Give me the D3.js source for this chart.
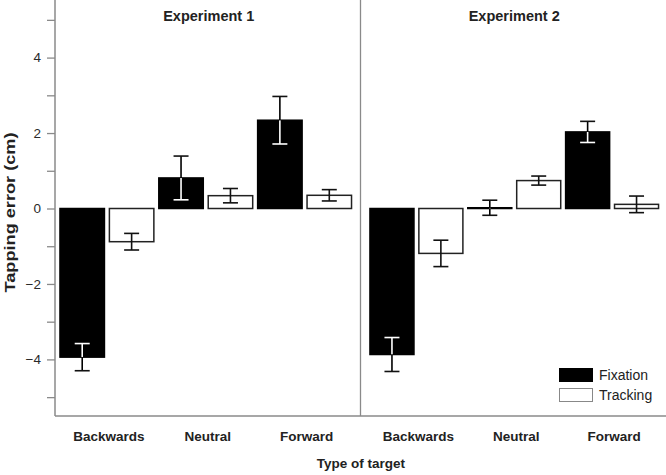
<!DOCTYPE html>
<html>
<head>
<meta charset="utf-8">
<script src="https://cdn.jsdelivr.net/npm/d3@7"></script>
<style>
  html, body { margin: 0; padding: 0; background: #fff; }
  svg { display: block; font-family: "Liberation Sans", Arial, Helvetica, sans-serif; }
</style>
</head>
<body>
<svg id="chart" width="666" height="475"></svg>
<script>
// ---- Data ----
const panels = ["Experiment 1", "Experiment 2"];
const categories = ["Backwards", "Neutral", "Forward"];
const seriesNames = ["Fixation", "Tracking"];
const exp1Fixation = [-3.94, 0.81, 2.34];
const exp1FixationErr = [0.36, 0.58, 0.63];
const exp1Tracking = [-0.88, 0.34, 0.35];
const exp1TrackingErr = [0.22, 0.19, 0.15];
const exp2Fixation = [-3.87, 0.02, 2.03];
const exp2FixationErr = [0.45, 0.20, 0.28];
const exp2Tracking = [-1.19, 0.74, 0.11];
const exp2TrackingErr = [0.35, 0.12, 0.22];
const yTicks = [-5, -4, -3, -2, -1, 0, 1, 2, 3, 4, 5];
const yTickLabels = ["", "\u22124", "", "\u22122", "", "0", "", "2", "", "4", ""];

const panelData = [
  { title: panels[0], Fixation: exp1Fixation, FixationErr: exp1FixationErr, Tracking: exp1Tracking, TrackingErr: exp1TrackingErr },
  { title: panels[1], Fixation: exp2Fixation, FixationErr: exp2FixationErr, Tracking: exp2Tracking, TrackingErr: exp2TrackingErr }
];

const svg = d3.select("#chart");
const axisColor = "#8a8a8a";
const textColor = "#222";

const y = d3.scaleLinear().domain([-5.5, 5.5]).range([416, 1]);
const plotLeft = 55, plotRight = 666, plotBottom = 416;

const panelScale = d3.scaleBand().domain(panels).range([55, 666]).padding(0);
const panelInsets = [[2.5, 6.5], [7, 5]];

const fills = { Fixation: "#000", Tracking: "#fff" };

panelData.forEach((pd, pi) => {
  const px0 = panelScale(pd.title);
  const px1 = px0 + panelScale.bandwidth();
  const xCat = d3.scaleBand().domain(categories)
    .range([px0 + panelInsets[pi][0], px1 - panelInsets[pi][1]]).padding(0);
  const xSer = d3.scaleBand().domain(seriesNames)
    .range([0, xCat.bandwidth()]).paddingInner(0.1).paddingOuter(0.05);

  const g = svg.append("g");

  g.append("text")
    .attr("x", (px0 + px1) / 2 + 1)
    .attr("y", 21)
    .attr("text-anchor", "middle")
    .attr("font-weight", "bold")
    .attr("font-size", 14.5)
    .attr("fill", textColor)
    .text(pd.title);

  categories.forEach((cat, ci) => {
    seriesNames.forEach(s => {
      const v = pd[s][ci];
      const e = pd[s + "Err"][ci];
      const bx = xCat(cat) + xSer(s);
      const bw = xSer.bandwidth();
      const cx = bx + bw / 2;
      const yTop = y(Math.max(0, v));
      const yBot = y(Math.min(0, v));
      g.append("rect")
        .attr("x", bx).attr("y", yTop)
        .attr("width", bw).attr("height", Math.max(0.5, yBot - yTop))
        .attr("fill", fills[s])
        .attr("stroke", s === "Fixation" ? "#000" : "#222")
        .attr("stroke-width", 1.5);

      const lo = v - e, hi = v + e;
      const capW = 15;
      const segs = [];
      if (s === "Fixation") {
        const bLo = Math.min(0, v), bHi = Math.max(0, v);
        const iLo = Math.max(lo, bLo), iHi = Math.min(hi, bHi);
        if (iHi > iLo) segs.push({ a: iLo, b: iHi, c: "#fff" });
        if (hi > bHi) segs.push({ a: Math.max(lo, bHi), b: hi, c: "#000" });
        if (lo < bLo) segs.push({ a: lo, b: Math.min(hi, bLo), c: "#000" });
      } else {
        segs.push({ a: lo, b: hi, c: "#111" });
      }
      segs.forEach(sg => {
        g.append("line")
          .attr("x1", cx).attr("x2", cx)
          .attr("y1", y(sg.a)).attr("y2", y(sg.b))
          .attr("stroke", sg.c).attr("stroke-width", 1.6);
      });
      [lo, hi].forEach(val => {
        let c = "#111";
        if (s === "Fixation" && val >= Math.min(0, v) && val <= Math.max(0, v) && Math.abs(v) > 0.1) c = "#fff";
        g.append("line")
          .attr("x1", cx - capW / 2).attr("x2", cx + capW / 2)
          .attr("y1", y(val)).attr("y2", y(val))
          .attr("stroke", c).attr("stroke-width", 1.6);
      });
    });

    g.append("text")
      .attr("x", xCat(cat) + xCat.bandwidth() / 2 + 2)
      .attr("y", 441)
      .attr("text-anchor", "middle")
      .attr("font-weight", "bold")
      .attr("font-size", 13.5)
      .attr("fill", textColor)
      .text(cat);
  });
});

// y axis
const yAxis = d3.axisLeft(y).tickValues(yTicks).tickSize(8).tickPadding(6)
  .tickFormat((d, i) => yTickLabels[i]);
const ya = svg.append("g").attr("transform", `translate(${plotLeft},0)`).call(yAxis);
ya.select(".domain").remove();
ya.selectAll(".tick line").attr("stroke", axisColor).attr("stroke-width", 1.3);
ya.selectAll(".tick text").attr("font-size", 13.5).attr("fill", "#2a2a2a")
  .attr("font-family", "'Liberation Sans', Arial, sans-serif");

// frame lines
svg.append("line").attr("x1", plotLeft).attr("x2", plotLeft).attr("y1", 0).attr("y2", plotBottom)
  .attr("stroke", axisColor).attr("stroke-width", 1.5);
svg.append("line").attr("x1", plotLeft).attr("x2", plotRight).attr("y1", plotBottom).attr("y2", plotBottom)
  .attr("stroke", axisColor).attr("stroke-width", 1.5);
const sepX = panelScale(panels[1]);
svg.append("line").attr("x1", sepX).attr("x2", sepX).attr("y1", 0).attr("y2", plotBottom)
  .attr("stroke", axisColor).attr("stroke-width", 1.3);

// axis titles
svg.append("text")
  .attr("transform", `translate(15,${y(0) + 4}) rotate(-90)`)
  .attr("text-anchor", "middle")
  .attr("font-weight", "bold").attr("font-size", 14.5)
  .attr("textLength", 160).attr("lengthAdjust", "spacingAndGlyphs")
  .attr("fill", textColor)
  .text("Tapping error (cm)");
svg.append("text")
  .attr("x", 361).attr("y", 468)
  .attr("text-anchor", "middle")
  .attr("font-weight", "bold").attr("font-size", 13.5)
  .attr("fill", textColor)
  .text("Type of target");

// legend
const legend = svg.append("g").attr("transform", "translate(559,368)");
seriesNames.forEach((s, i) => {
  const row = legend.append("g").attr("transform", `translate(0,${i * 20})`);
  row.append("rect").attr("x", 0.5).attr("y", 0.5).attr("width", 33).attr("height", 13)
    .attr("fill", fills[s]).attr("stroke", s === "Fixation" ? "#000" : "#888").attr("stroke-width", 1);
  row.append("text").attr("x", 40).attr("y", 12)
    .attr("font-size", 14).attr("fill", textColor).text(s);
});
</script>
</body>
</html>
